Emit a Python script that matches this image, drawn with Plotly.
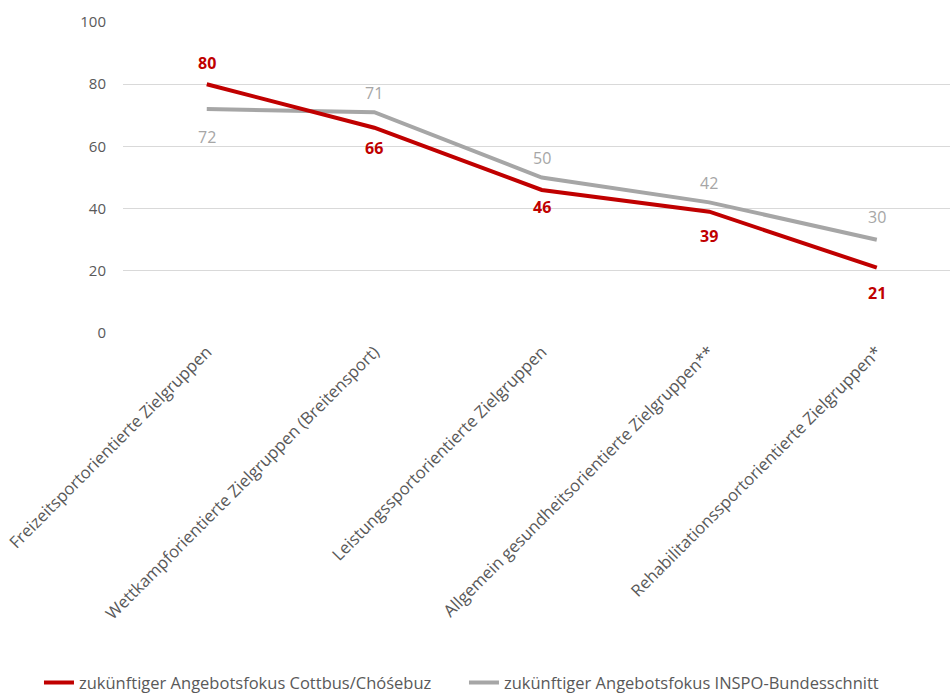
import plotly.graph_objects as go

categories = [
    "Freizeitsportorientierte Zielgruppen",
    "Wettkampforientierte Zielgruppen (Breitensport)",
    "Leistungssportorientierte Zielgruppen",
    "Allgemein gesundheitsorientierte Zielgruppen**",
    "Rehabilitationssportorientierte Zielgruppen*",
]
cottbus = [80, 66, 46, 39, 21]
inspo = [72, 71, 50, 42, 30]

name_cottbus = "zukünftiger Angebotsfokus Cottbus/Chóśebuz"
name_inspo = "zukünftiger Angebotsfokus INSPO-Bundesschnitt"

# label offsets in pixels (style only)
cottbus_shift = [21, -20, -17, -24, -25]
inspo_shift = [-28, 19, 20, 19, 23]

FONT = "Open Sans, Liberation Sans, sans-serif"
RED = "#C00000"
GRAY = "#A6A6A6"
TXT = "#595959"

x = list(range(len(categories)))

fig = go.Figure()
fig.add_trace(go.Scatter(
    x=x, y=inspo, name=name_inspo, mode="lines",
    line=dict(color=GRAY, width=4), hoverinfo="x+y",
))
fig.add_trace(go.Scatter(
    x=x, y=cottbus, name=name_cottbus, mode="lines",
    line=dict(color=RED, width=4), hoverinfo="x+y",
))

for xi, v, s in zip(x, cottbus, cottbus_shift):
    fig.add_annotation(x=xi, y=v, text=f"<b>{v}</b>", showarrow=False, yshift=s,
                       font=dict(family=FONT, size=16, color=RED))
for xi, v, s in zip(x, inspo, inspo_shift):
    fig.add_annotation(x=xi, y=v, text=str(v), showarrow=False, yshift=s,
                       font=dict(family=FONT, size=16, color=GRAY))

fig.update_layout(
    width=950, height=695,
    margin=dict(l=123, r=0, t=22, b=362, autoexpand=False),
    paper_bgcolor="white", plot_bgcolor="white",
    font=dict(family=FONT, size=14, color=TXT),
    showlegend=True,
    legend=dict(
        orientation="h",
        x=-0.1016, y=-1.125, xanchor="left", yanchor="middle",
        font=dict(family=FONT, size=16.5, color=TXT),
        traceorder="reversed", entrywidth=380, entrywidthmode="pixels",
        itemclick=False,
    ),
    xaxis=dict(
        range=[-0.5, 4.437], tickmode="array", tickvals=x, ticktext=categories,
        tickangle=-45, showgrid=False, zeroline=False, showline=False,
        ticks="", tickfont=dict(size=16.7, color=TXT), automargin=False,
        ticklabelstandoff=5,
    ),
    yaxis=dict(
        range=[0, 100], tickvals=[0, 20, 40, 60, 80, 100],
        showgrid=True, gridcolor="#D9D9D9", gridwidth=1, zeroline=False,
        showline=False, ticks="", ticklabelstandoff=16,
        tickfont=dict(size=15, color=TXT), automargin=False,
    ),
)

fig.write_html("out.html", config={"displayModeBar": False},
               post_script="document.body.style.margin='0px';")
